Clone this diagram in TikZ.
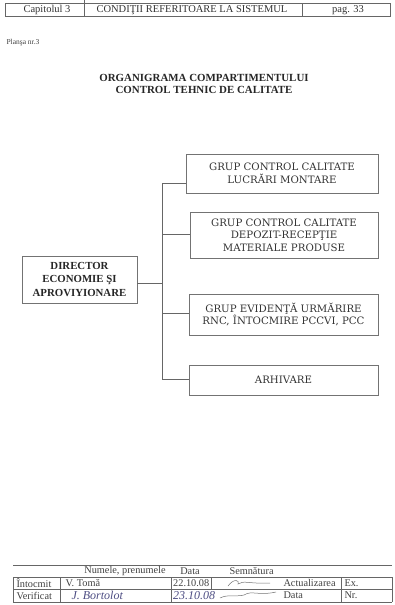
\documentclass[tikz,border=0pt]{standalone}
\usepackage{fontspec}
\setmainfont{Liberation Serif}
\newfontfamily\schitafont{DejaVu Serif}
\usetikzlibrary{positioning}
\tikzset{
    linie/.style={draw=black!60, line width=0.5pt},
    grupbox/.style={draw=black!55, line width=0.6pt, align=center, inner sep=0pt,
        text=black!80, font=\schitafont\fontsize{10.2}{12.5}\selectfont},
    directorbox/.style={draw=black!55, line width=0.6pt, align=center, inner sep=0pt,
        text=black!85, font=\bfseries\fontsize{10.8}{13.5}\selectfont},
    antet/.style={text=black!80, font=\fontsize{10.5}{11}\selectfont},
    tabel/.style={text=black!75, font=\fontsize{10.3}{10}\selectfont},
    scris/.style={text=blue!30!black!70, font=\itshape\fontsize{12}{12}\selectfont},
    semnatura/.style={draw=black!55, line width=0.5pt}
}

\begin{document}
\begin{tikzpicture}[x=1pt,y=-1pt]
	\useasboundingbox (0,0) rectangle (394,605);
	% antet
	\draw[linie] (5,3) rectangle (390,16);
	\draw[linie] (84,0) -- (84,16);
	\draw[linie] (302,3) -- (302,16);
	\node[antet] (capitol) at (47,10) {Capitolul 3};
	\node[antet] (conditii) at (192,10) {CONDIŢII REFERITOARE LA SISTEMUL};
	\node[antet] (pagina) at (348,10) {pag. 33};
	\node[tabel,anchor=west,font=\fontsize{7.5}{8}\selectfont] (plansa) at (3,43) {Planşa nr.3};
	% titlu
	\node[align=center, text=black!85, font=\bfseries\fontsize{10.9}{12}\selectfont] (titlu) at (204,84)
		{ORGANIGRAMA COMPARTIMENTULUI\\CONTROL TEHNIC DE CALITATE};
	% organigrama
	\node[directorbox, minimum width=115pt, minimum height=47pt] (director) at (79.5,279.5)
		{DIRECTOR\\ECONOMIE ŞI\\APROVIYIONARE};
	\node[grupbox, minimum width=192pt, minimum height=39pt] (grup1) at (282,173.5)
		{GRUP CONTROL CALITATE\\LUCRĂRI MONTARE};
	\node[grupbox, minimum width=188pt, minimum height=46pt] (grup2) at (284,235)
		{GRUP CONTROL CALITATE\\DEPOZIT-RECEPŢIE\\MATERIALE PRODUSE};
	\node[grupbox, minimum width=189pt, minimum height=41pt] (grup3) at (283.5,314.5)
		{GRUP EVIDENŢĂ URMĂRIRE\\RNC, ÎNTOCMIRE PCCVI, PCC};
	\node[grupbox, minimum width=189pt, minimum height=30pt] (grup4) at (283.5,380)
		{ARHIVARE};
	\coordinate (sus) at (162,183);
	\coordinate (nod) at (162,283);
	\coordinate (jos) at (162,379);
	\draw[linie] (sus) -- (jos);
	\draw[linie] (director.east |- nod) -- (nod);
	\draw[linie] (sus) -- (grup1.west |- sus);
	\draw[linie] (162,234) -- (grup2.west |- 0,234);
	\draw[linie] (162,313) -- (grup3.west |- 0,313);
	\draw[linie] (jos) -- (grup4.west |- jos);
	% cartus
	\draw[linie] (13,565) -- (392,565);
	\draw[linie] (13,577) -- (392,577);
	\draw[linie] (13,589) -- (392,589);
	\draw[linie] (13,602) -- (392,602);
	\draw[linie] (13,577) -- (13,602);
	\draw[linie] (60,577) -- (60,602);
	\draw[linie] (171,577) -- (171,602);
	\draw[linie] (211,577) -- (211,589);
	\draw[linie] (341,577) -- (341,602);
	\draw[linie] (392,577) -- (392,602);
	\node[tabel] (numele) at (125,571) {Numele, prenumele};
	\node[tabel] (data) at (190,571) {Data};
	\node[tabel,anchor=west] (semn) at (226,571) {Semnătura};
	\node[tabel,anchor=west] (intocmit) at (13,583) {Întocmit};
	\node[tabel,anchor=west] (verificat) at (13,595.5) {Verificat};
	\node[tabel,anchor=west] (toma) at (62,583) {V. Tomă};
	\node[tabel,anchor=west,inner sep=1pt] (data1) at (172,583) {22.10.08};
	\node[tabel,anchor=west] (actualizare) at (280,583) {Actualizarea};
	\node[tabel,anchor=west] (ex) at (341,583) {Ex.};
	\node[tabel,anchor=west] (data3) at (280,595.5) {Data};
	\node[tabel,anchor=west] (nr) at (341,595.5) {Nr.};
	\node[scris,anchor=west] (verif) at (68,595.5) {J. Bortolot};
	\node[scris,anchor=west,inner sep=1pt] (data2) at (172,595.5) {23.10.08};
	% semnaturi
	\draw[semnatura] (228,586) .. controls (234,578) and (240,580) .. (238,584)
		.. controls (244,580) and (248,584) .. (270,583);
	\draw[semnatura] (220,598) .. controls (228,594) and (236,597) .. (244,595)
		.. controls (252,590) and (258,596) .. (276,592);
\end{tikzpicture}
\end{document}
